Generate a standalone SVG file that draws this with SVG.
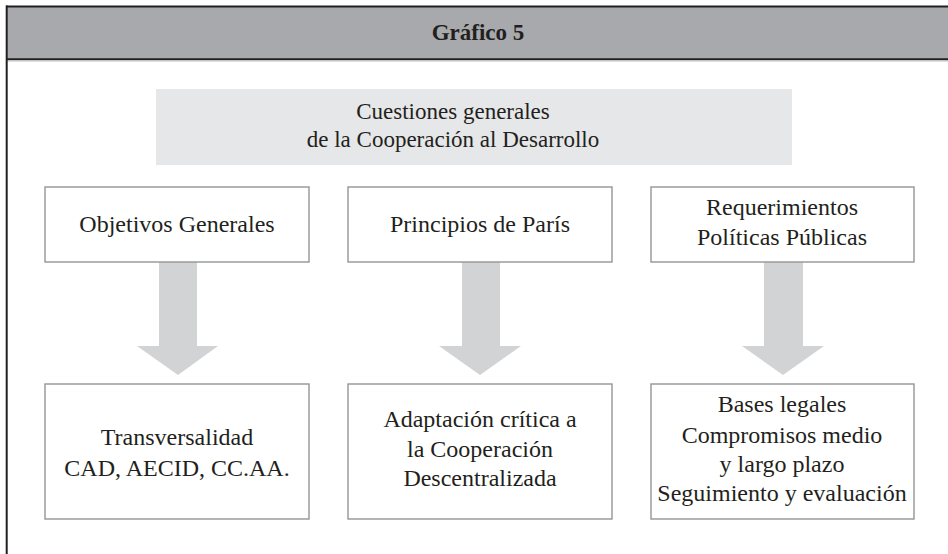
<svg xmlns="http://www.w3.org/2000/svg" width="948" height="554" viewBox="0 0 948 554">
  <style>
    text { font-family: "Liberation Serif", "Times New Roman", serif; fill: #231f20; text-anchor: middle; }
    .t { font-size: 24px; }
    .s { font-size: 23px; }
    .h { font-size: 23px; font-weight: bold; }
    .box { fill: #ffffff; stroke: #939598; stroke-width: 1.4; }
    .arr { fill: #d1d3d4; stroke: none; }
  </style>
  <rect x="0" y="0" width="948" height="554" fill="#ffffff"/>
  <g id="frame">
    <rect x="6" y="6.5" width="950" height="53" fill="#a7a9ac"/>
    <line x1="6" y1="6.5" x2="948" y2="6.5" stroke="#231f20" stroke-width="2"/>
    <line x1="6" y1="59.3" x2="948" y2="59.3" stroke="#231f20" stroke-width="2"/>
    <line x1="7.5" y1="61" x2="948" y2="61" stroke="#bcbec0" stroke-width="1"/>
    <line x1="6.7" y1="5.5" x2="6.7" y2="554" stroke="#231f20" stroke-width="2"/>
    <text class="h" x="478" y="40">Gráfico 5</text>
  </g>
  <g id="top">
    <rect x="156" y="89" width="636" height="76" fill="#e6e7e8"/>
    <text class="s" x="453" y="119">Cuestiones generales</text>
    <text class="s" x="453" y="147">de la Cooperación al Desarrollo</text>
  </g>
  <g id="connectors">
    <polygon class="arr" points="159,262 197,262 197,346 218,346 178,375 137,346 159,346"/>
    <polygon class="arr" points="462,262 500,262 500,346 521,346 480,375 439,346 462,346"/>
    <polygon class="arr" points="764,262 803,262 803,346 824,346 783,375 742,346 764,346"/>
  </g>
  <g id="objetivos">
    <rect class="box" x="45" y="187" width="264" height="75"/>
    <text class="t" x="177" y="232">Objetivos Generales</text>
  </g>
  <g id="principios">
    <rect class="box" x="348" y="187" width="264" height="75"/>
    <text class="t" x="480" y="232">Principios de París</text>
  </g>
  <g id="requerimientos">
    <rect class="box" x="651" y="187" width="263" height="75"/>
    <text class="t" x="782" y="215">Requerimientos</text>
    <text class="t" x="782" y="245">Políticas Públicas</text>
  </g>
  <g id="transversalidad">
    <rect class="box" x="45" y="384" width="264" height="135"/>
    <text class="t" x="177" y="445">Transversalidad</text>
    <text class="t" x="177" y="476">CAD, AECID, CC.AA.</text>
  </g>
  <g id="adaptacion">
    <rect class="box" x="348" y="384" width="264" height="135"/>
    <text class="t" x="480" y="427">Adaptación crítica a</text>
    <text class="t" x="480" y="457">la Cooperación</text>
    <text class="t" x="480" y="486">Descentralizada</text>
  </g>
  <g id="bases">
    <rect class="box" x="651" y="384" width="263" height="135"/>
    <text class="t" x="782" y="412">Bases legales</text>
    <text class="t" x="782" y="443">Compromisos medio</text>
    <text class="t" x="782" y="472">y largo plazo</text>
    <text class="t" x="782" y="501">Seguimiento y evaluación</text>
  </g>
</svg>
